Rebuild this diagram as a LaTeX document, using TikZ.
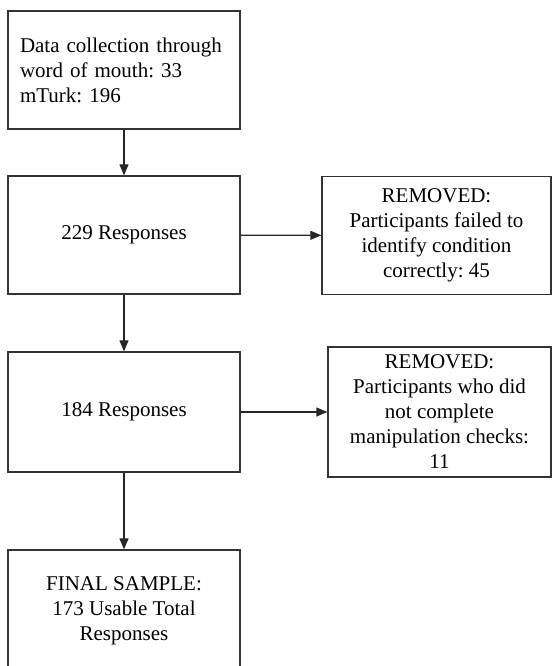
\documentclass[tikz,border=0pt]{standalone}
\usepackage{fontspec}
\setmainfont{Liberation Serif}
\usepackage{tikz}
\usetikzlibrary{positioning,calc,arrows.meta}

\tikzset{
  stagebox/.style={draw=black!80,line width=1.3pt,fill=white,align=center,
    font=\fontsize{21}{25}\selectfont\frenchspacing,inner sep=0pt,
    minimum width=232pt,minimum height=118pt},
  flowarrow/.style={draw=black!85,line width=1.2pt,-{Triangle[length=11pt,width=9pt]}}
}

\begin{document}
\begin{tikzpicture}[x=1pt,y=-1pt]
      \useasboundingbox (0,0) rectangle (553,666);

      \node[stagebox,align=left,text width=208pt,inner xsep=12pt] (collect) at (124,70) {Data collection through\\word of mouth: 33\\mTurk: 196};
      \node[stagebox] (resp229) at (124,235) {229 Responses};
      \node[stagebox,minimum width=229pt] (removed1) at (436.5,235.5) {REMOVED:\\Participants failed to\\identify condition\\correctly: 45};
      \node[stagebox,minimum height=120pt] (resp184) at (124,412) {184 Responses};
      \node[stagebox,minimum width=223pt,minimum height=130pt] (removed2) at (439.5,412) {REMOVED:\\Participants who did\\not complete\\manipulation checks:\\11};
      \node[stagebox,minimum height=122pt] (final) at (124,611) {FINAL SAMPLE:\\173 Usable Total\\Responses};

      \draw[flowarrow] (collect) -- (resp229);
      \draw[flowarrow] (resp229) -- (removed1);
      \draw[flowarrow] (resp229) -- (resp184);
      \draw[flowarrow] (resp184) -- (removed2);
      \draw[flowarrow] (resp184) -- (final);
\end{tikzpicture}
\end{document}
